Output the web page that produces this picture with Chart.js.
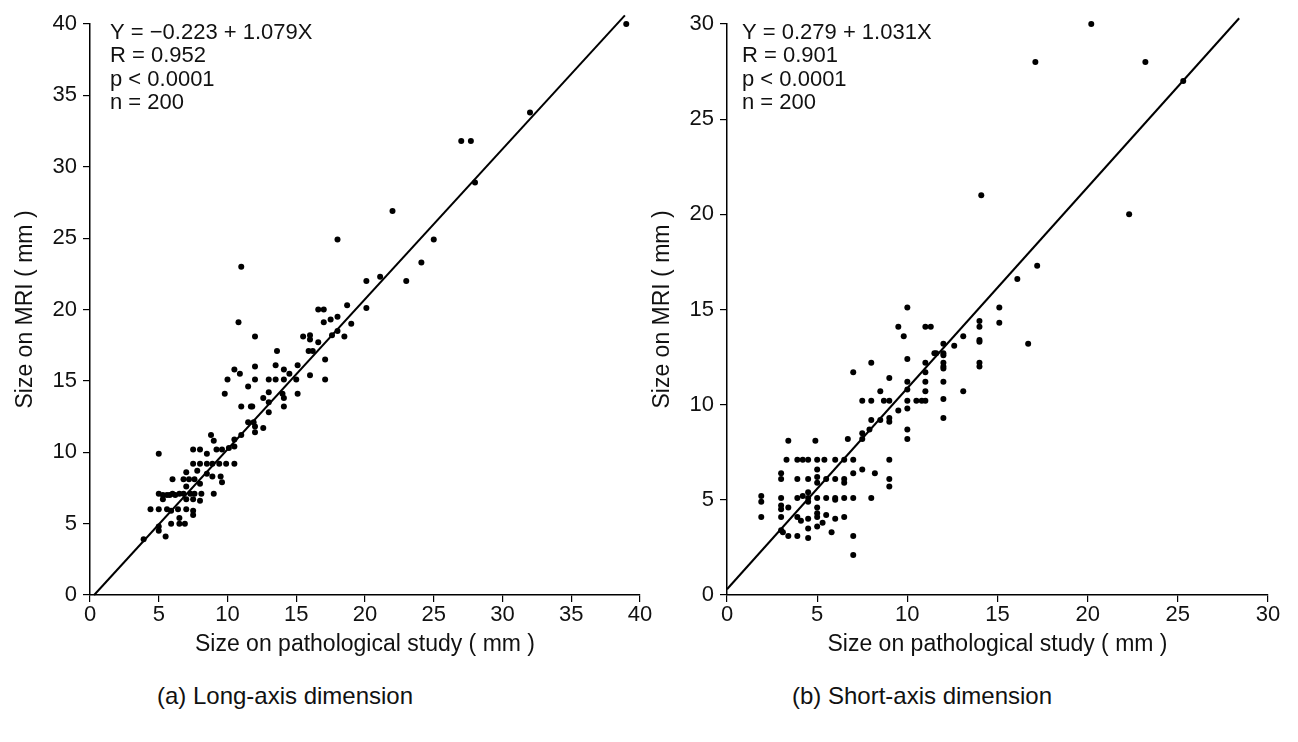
<!DOCTYPE html>
<html>
<head>
<meta charset="utf-8">
<script src="https://cdn.jsdelivr.net/npm/chart.js@4"></script>
<style>
  body { margin: 0; background: #fff; width: 1298px; height: 742px; position: relative; overflow: hidden; font-family: 'Liberation Sans', Arial, sans-serif; }
  .box { position: absolute; top: 0; height: 660px; }
  .cap { position: absolute; top: 682px; font-size: 24px; color: #111; text-align: center; width: 500px; }
</style>
</head>
<body>
<div class="box" style="left:0;width:660px"><canvas id="longAxis"></canvas></div>
<div class="box" style="left:645px;width:653px"><canvas id="shortAxis"></canvas></div>
<div class="cap" style="left:35px">(a) Long-axis dimension</div>
<div class="cap" style="left:672px">(b) Short-axis dimension</div>
<script>
// long-axis: pathological size (x) vs MRI size (y), mm
var longX = [11, 10.8, 12, 16.6, 17, 17, 15.5, 16, 16.6, 13.6, 15.9, 16.2, 17.1, 12, 10.5, 10.9, 13.5, 15.1, 10, 12, 13, 13.5, 14.1, 14.5, 15, 16, 17.1, 11.5, 9.8, 13, 12.6, 13, 14, 14.1, 14.1, 15.1, 11, 11.7, 13, 11.5, 11.9, 12, 12, 12.6, 11, 8.8, 9, 10.5,
  5, 7.5, 8, 8.5, 9.2, 9.6, 10.1, 10.5,
  7.5, 8, 8.5, 8.9, 9.4, 9.9, 10.5,
  7, 7.8, 8.5, 8.9, 9.5, 9.6,
  6, 6.8, 7.2, 7.6, 8, 7,
  5, 5.3, 6, 6.5, 6.8, 7.3, 7.6, 8.1, 9, 5.6, 5.8, 6.2,
  5.3, 7, 7.5, 8,
  4.4, 5, 5.6, 5.9, 6.4, 7, 7.5,
  6.5, 6.5, 5.9, 6.9, 7.5,
  5, 5, 5.5, 3.9, 14.1, 11.8,
  32, 27, 27.7, 28, 22, 18, 25, 24.1, 21.1, 20.1, 23, 18.7, 20.1, 17.5, 18, 19, 16, 17.6, 18, 18.5, 39];
var longY = [23, 19.1, 18.1, 20, 20, 19.1, 18.1, 17.9, 17.7, 17.1, 17.1, 17.1, 16.5, 16, 15.8, 15.5, 16.1, 16.1, 15.1, 15.1, 15.1, 15.1, 15.1, 15.5, 15.1, 15.4, 15.1, 14.6, 14.1, 14.2, 13.8, 13.5, 14.1, 13.8, 13.2, 14.1, 13.2, 13.2, 12.8, 12.1, 12.1, 11.8, 11.4, 11.7, 11.2, 11.2, 10.8, 10.9,
  9.9, 10.2, 10.2, 9.9, 10.2, 10.2, 10.3, 10.4,
  9.2, 9.2, 9.2, 9.2, 9.2, 9.2, 9.2,
  8.6, 8.7, 8.5, 8.3, 8.3, 7.9,
  8.1, 8.1, 8.1, 8.1, 7.8, 7.6,
  7.1, 7, 7.1, 7.1, 7.1, 7.1, 7.1, 7.1, 7.1, 7, 7, 7,
  6.7, 6.7, 6.7, 6.6,
  6, 6, 6, 5.9, 6, 6, 5.9,
  5.4, 5, 5, 5, 5.6,
  4.8, 4.5, 4.1, 3.9, 15.8, 13.2,
  33.8, 31.8, 31.8, 28.9, 26.9, 24.9, 24.9, 23.3, 22.3, 22, 22, 20.3, 20.1, 19.3, 19.5, 19, 18.2, 18.2, 18.5, 18.1, 40];

// short-axis
var shortX = [10, 9.5, 11, 11.3, 9.8, 10, 12, 12.6, 12, 11.5, 12, 11, 11, 11, 11, 12, 12, 12, 12, 12, 13.1, 8, 7, 9, 10, 10, 8.5, 7.5, 8, 8.7, 9, 10, 10, 10.5, 10.8, 11, 9.5, 10, 10, 8, 8.5, 9, 9, 7.5, 7.5, 7.9, 6.7, 3.4, 4.9,
  3.3, 3.9, 4.2, 4.5, 5, 5.4, 6, 6.5, 7, 9,
  3, 3, 3.9, 4.5, 5, 5, 5, 5.5, 6, 6.5, 6.5, 7, 7.5, 8.2, 9, 9,
  1.9, 1.9, 1.9, 3, 3, 3, 3, 3.9, 4.2, 4.5, 4.5, 4.5, 5, 5.5, 6, 6, 6.5, 7, 8, 3.4, 3.9, 4.1, 4.5, 4.5, 4.5, 5, 5, 5, 5, 5.5, 6, 6.5, 5.3, 5.8, 3, 3.1, 3.4, 3.9, 7, 7,
  20.2, 17.1, 23.2, 25.3, 14.1, 22.3, 17.2, 16.1, 15.1, 15.1, 14, 14, 14, 14, 14, 14, 13.1, 16.7, 12, 11.6];
var shortY = [15.1, 14.1, 14.1, 14.1, 13.6, 12.4, 13.2, 13.1, 12.7, 12.7, 12.6, 12.2, 11.7, 11.2, 10.7, 12.2, 11.9, 11.2, 10.3, 9.3, 10.7, 12.2, 11.7, 11.4, 11.2, 10.8, 10.7, 10.2, 10.2, 10.2, 10.2, 10.2, 9.8, 10.2, 10.2, 10.2, 9.7, 8.7, 8.2, 9.2, 9.2, 9.3, 9.1, 8.5, 8.2, 8.7, 8.2, 8.1, 8.1,
  7.1, 7.1, 7.1, 7.1, 7.1, 7.1, 7.1, 7.1, 7.1, 7.1,
  6.4, 6.1, 6.1, 6.1, 6.6, 6.2, 5.9, 6.1, 6.1, 6.1, 5.9, 6.4, 6.6, 6.4, 6.1, 5.7,
  5.2, 4.9, 4.1, 5.1, 4.7, 4.5, 4.1, 5.1, 5.2, 5.1, 4.9, 5.4, 5.1, 5.1, 5.1, 5, 5.1, 5.1, 5.1, 4.6, 4.1, 3.9, 4, 3.5, 3, 4.6, 4.3, 4.1, 3.6, 4.2, 4, 4.1, 3.8, 3.3, 3.4, 3.3, 3.1, 3.1, 3.1, 2.1,
  30, 28, 28, 27, 21, 20, 17.3, 16.6, 15.1, 14.3, 14.4, 14.1, 13.4, 13.3, 12.2, 12, 13.6, 13.2, 12, 12.7];

// fitted lines as drawn (ends)
var longFitX = [0.3, 38.9], longFitY = [0, 40.6];
var shortFitX = [0, 28.4], shortFitY = [0.3, 30.3];

var longText = ['Y = −0.223 + 1.079X', 'R = 0.952', 'p < 0.0001', 'n = 200'];
var shortText = ['Y = 0.279 + 1.031X', 'R = 0.901', 'p < 0.0001', 'n = 200'];

var xTitle = 'Size on pathological study ( mm )';
var yTitle = 'Size on MRI ( mm )';

function pts(xs, ys) {
  return xs.map(function (x, i) { return { x: x, y: ys[i] }; });
}

var FONT = "'Liberation Sans', Arial, sans-serif";

var statsText = {
  id: 'statsText',
  afterDatasetsDraw: function (chart, args, opts) {
    var ctx = chart.ctx;
    ctx.save();
    ctx.fillStyle = '#111';
    ctx.font = '22px ' + FONT;
    ctx.textBaseline = 'middle';
    opts.lines.forEach(function (t, i) {
      ctx.fillText(t, chart.chartArea.left + opts.dx, 33 + i * 23.3);
    });
    ctx.restore();
  }
};

function makeChart(id, xs, ys, fx, fy, max, lines, padLeft, padRight, dx) {
  var ctx = document.getElementById(id).getContext('2d');
  return new Chart(ctx, {
    type: 'scatter',
    data: {
      datasets: [{
        data: pts(xs, ys),
        backgroundColor: '#000',
        borderWidth: 0,
        pointRadius: 3,
        clip: false
      }, {
        type: 'line',
        data: pts(fx, fy),
        borderColor: '#000',
        borderWidth: 2,
        pointRadius: 0,
        fill: false,
        clip: false
      }]
    },
    options: {
      responsive: true,
      maintainAspectRatio: false,
      animation: false,
      layout: { padding: { left: padLeft, right: padRight, top: 24, bottom: 0 } },
      plugins: {
        legend: { display: false },
        tooltip: { enabled: false },
        statsText: { lines: lines, dx: dx }
      },
      scales: {
        x: {
          type: 'linear', min: 0, max: max,
          ticks: { stepSize: 5, color: '#111', font: { family: FONT, size: 22 }, padding: 0, maxRotation: 0 },
          grid: { drawOnChartArea: false, drawTicks: true, tickLength: 7, color: '#000', lineWidth: 1.2 },
          border: { display: true, color: '#000', width: 1.5 },
          title: { display: true, text: xTitle, color: '#111', font: { family: FONT, size: 23 }, padding: { top: 2, bottom: 2 } },
          afterFit: function (s) { s.height = 65; }
        },
        y: {
          type: 'linear', min: 0, max: max,
          ticks: { stepSize: 5, color: '#111', font: { family: FONT, size: 22 }, padding: 6 },
          grid: { drawOnChartArea: false, drawTicks: true, tickLength: 7, color: '#000', lineWidth: 1.2 },
          border: { display: true, color: '#000', width: 1.5 },
          title: { display: true, text: yTitle, color: '#111', font: { family: FONT, size: 23 }, padding: { top: 2, bottom: 2 } },
          afterFit: function (s) { s.width = 80; }
        }
      }
    },
    plugins: [statsText]
  });
}

makeChart('longAxis', longX, longY, longFitX, longFitY, 40, longText, 10, 20, 20);
makeChart('shortAxis', shortX, shortY, shortFitX, shortFitY, 30, shortText, 2, 30, 15);
</script>
</body>
</html>
